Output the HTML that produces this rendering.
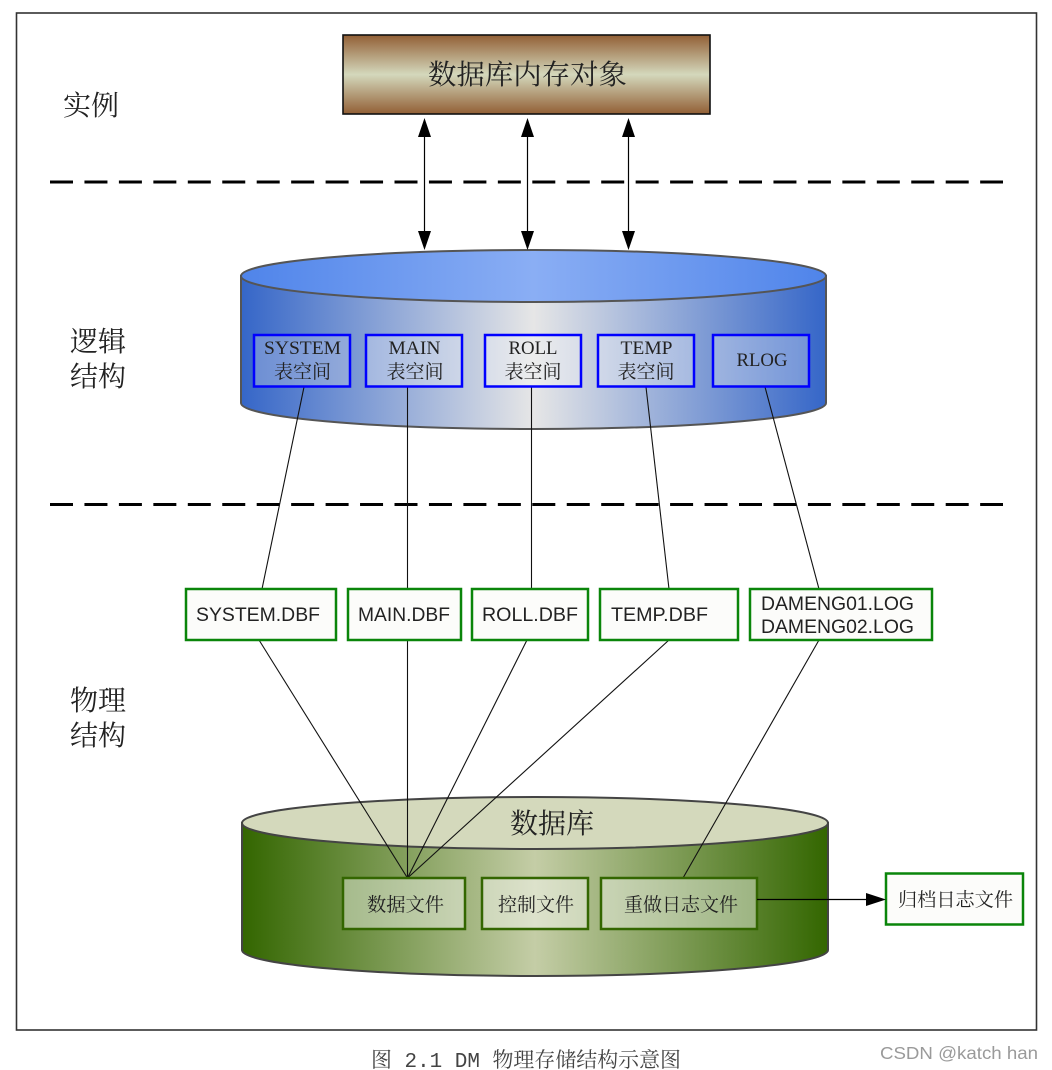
<!DOCTYPE html>
<html><head><meta charset="utf-8">
<style>
html,body{margin:0;padding:0;background:#fff}
svg{display:block}
text{fill:#222}
.cn{font-family:"Liberation Serif","Noto Serif CJK SC",serif}
.se{font-family:"Liberation Serif","Noto Serif CJK SC",serif;font-size:19px;text-anchor:middle}
.sa{font-family:"Liberation Sans",sans-serif;font-size:19px}
.lbl{font-family:"Liberation Serif","Noto Serif CJK SC",serif;font-size:28px}
</style></head><body>
<svg width="1052" height="1070" viewBox="0 0 1052 1070" xmlns="http://www.w3.org/2000/svg">
<defs>
<linearGradient id="br" x1="0" y1="0" x2="0" y2="1">
<stop offset="0" stop-color="#925f35"/><stop offset=".5" stop-color="#d4d8bc"/><stop offset="1" stop-color="#925f35"/>
</linearGradient>
<linearGradient id="bl" x1="0" y1="0" x2="1" y2="0">
<stop offset="0" stop-color="#3566c8"/><stop offset=".5" stop-color="#e6e6e6"/><stop offset="1" stop-color="#3566c8"/>
</linearGradient>
<linearGradient id="blt" x1="0" y1="0" x2="1" y2="0">
<stop offset="0" stop-color="#4f84ea"/><stop offset=".5" stop-color="#8aaef4"/><stop offset="1" stop-color="#4f84ea"/>
</linearGradient>
<linearGradient id="gr" x1="0" y1="0" x2="1" y2="0">
<stop offset="0" stop-color="#336600"/><stop offset=".5" stop-color="#c4cda6"/><stop offset="1" stop-color="#336600"/>
</linearGradient>
</defs>

<rect x="16.500" y="13" width="1020" height="1017" fill="#fff" stroke="#333" stroke-width="1.600"/>

<!-- top box -->
<rect x="343" y="35" width="367" height="79" fill="url(#br)" stroke="#111" stroke-width="1.600"/>
<text class="cn" x="527.500" y="84" font-size="28" text-anchor="middle" textLength="199" lengthAdjust="spacingAndGlyphs">数据库内存对象</text>

<!-- dashed -->
<line x1="50" y1="182" x2="1003" y2="182" stroke="#000" stroke-width="3" stroke-dasharray="23 11.450"/>
<line x1="50" y1="504.500" x2="1003" y2="504.500" stroke="#000" stroke-width="3" stroke-dasharray="23 11.450"/>

<!-- blue cylinder -->
<path d="M241 276V403A292.500 26 0 0 0 826 403V276Z" fill="url(#bl)" stroke="#555" stroke-width="2"/>
<ellipse cx="533.500" cy="276" rx="292.500" ry="26" fill="url(#blt)" stroke="#555" stroke-width="2"/>

<!-- arrows -->
<g fill="#000">
<g stroke="#000" stroke-width="1.200">
<line x1="424.500" y1="130" x2="424.500" y2="236"/>
<line x1="527.500" y1="130" x2="527.500" y2="236"/>
<line x1="628.500" y1="130" x2="628.500" y2="236"/>
</g>
<path d="M424.500 118l-6.500 19h13Z M527.500 118l-6.500 19h13Z M628.500 118l-6.500 19h13Z"/>
<path d="M424.500 250l-6.500-19h13Z M527.500 250l-6.500-19h13Z M628.500 250l-6.500-19h13Z"/>
</g>

<!-- connectors -->
<g stroke="#111" stroke-width="1.100" fill="none">
<line x1="304" y1="387" x2="262" y2="589"/>
<line x1="407.500" y1="387" x2="407.500" y2="589"/>
<line x1="531.500" y1="387" x2="531.500" y2="589"/>
<line x1="646" y1="387" x2="669" y2="589"/>
<line x1="765" y1="387" x2="819" y2="589"/>
</g>

<!-- blue boxes -->
<g fill="#fff" fill-opacity=".28" stroke="#0000ff" stroke-width="2.500">
<rect x="254" y="335" width="96" height="51.500" fill="#c8d2e8" fill-opacity=".35"/>
<rect x="366" y="335" width="96" height="51.500"/>
<rect x="485" y="335" width="96" height="51.500"/>
<rect x="598" y="335" width="96" height="51.500"/>
<rect x="713" y="335" width="96" height="51.500"/>
</g>
<text class="se" x="302.500" y="354" textLength="77" lengthAdjust="spacingAndGlyphs">SYSTEM</text>
<text class="se" x="302.500" y="378">表空间</text>
<text class="se" x="414.500" y="354" textLength="52" lengthAdjust="spacingAndGlyphs">MAIN</text>
<text class="se" x="415" y="378">表空间</text>
<text class="se" x="533" y="354" textLength="49" lengthAdjust="spacingAndGlyphs">ROLL</text>
<text class="se" x="533" y="378">表空间</text>
<text class="se" x="646.500" y="354" textLength="52" lengthAdjust="spacingAndGlyphs">TEMP</text>
<text class="se" x="646" y="378">表空间</text>
<text class="se" x="762" y="366" textLength="51" lengthAdjust="spacingAndGlyphs">RLOG</text>

<!-- green cylinder -->
<path d="M242 823V950A293 26 0 0 0 828 950V823Z" fill="url(#gr)" stroke="#444" stroke-width="2"/>
<ellipse cx="535" cy="823" rx="293" ry="26" fill="#d4d9bc" stroke="#444" stroke-width="2"/>
<text class="cn" x="552" y="833" font-size="28" text-anchor="middle" textLength="84" lengthAdjust="spacingAndGlyphs">数据库</text>

<!-- lower connectors -->
<g stroke="#111" stroke-width="1.100" fill="none">
<line x1="259" y1="640" x2="407.500" y2="878"/>
<line x1="407.500" y1="640" x2="407.500" y2="878"/>
<line x1="527" y1="640" x2="407.500" y2="878"/>
<line x1="669" y1="640" x2="407.500" y2="878"/>
<line x1="819" y1="640" x2="683" y2="878"/>
</g>

<!-- green file boxes -->
<g fill="#fcfcfa" stroke="#0a850a" stroke-width="2.500">
<rect x="186" y="589" width="150" height="51"/>
<rect x="348" y="589" width="113" height="51"/>
<rect x="472" y="589" width="116" height="51"/>
<rect x="600" y="589" width="138" height="51"/>
<rect x="750" y="589" width="182" height="51"/>
<rect x="886" y="873.500" width="137" height="51"/>
</g>
<text class="sa" x="196" y="621" textLength="124" lengthAdjust="spacingAndGlyphs">SYSTEM.DBF</text>
<text class="sa" x="358" y="621" textLength="92" lengthAdjust="spacingAndGlyphs">MAIN.DBF</text>
<text class="sa" x="482" y="621" textLength="96" lengthAdjust="spacingAndGlyphs">ROLL.DBF</text>
<text class="sa" x="611" y="621" textLength="97" lengthAdjust="spacingAndGlyphs">TEMP.DBF</text>
<text class="sa" x="761" y="610" textLength="153" lengthAdjust="spacingAndGlyphs">DAMENG01.LOG</text>
<text class="sa" x="761" y="633" textLength="153" lengthAdjust="spacingAndGlyphs">DAMENG02.LOG</text>
<text class="cn" x="898" y="906" font-size="19" textLength="115" lengthAdjust="spacingAndGlyphs">归档日志文件</text>

<!-- inner green boxes -->
<g fill="#fff" fill-opacity=".42" stroke="#336600" stroke-width="2.500">
<rect x="343" y="878" width="122" height="51"/>
<rect x="482" y="878" width="106" height="51"/>
<rect x="601" y="878" width="156" height="51"/>
</g>
<text class="cn" x="367" y="911" font-size="19" textLength="77" lengthAdjust="spacingAndGlyphs">数据文件</text>
<text class="cn" x="498" y="911" font-size="19" textLength="76" lengthAdjust="spacingAndGlyphs">控制文件</text>
<text class="cn" x="624" y="911" font-size="19" textLength="114" lengthAdjust="spacingAndGlyphs">重做日志文件</text>

<line x1="757" y1="899.500" x2="868" y2="899.500" stroke="#000" stroke-width="1.200"/>
<path d="M886 899.500L866 893V906Z" fill="#000"/>

<!-- side labels -->
<text class="lbl" x="63" y="115">实例</text>
<text class="lbl" x="70" y="351">逻辑</text>
<text class="lbl" x="70" y="386">结构</text>
<text class="lbl" x="70" y="710">物理</text>
<text class="lbl" x="70" y="745">结构</text>

<!-- caption -->
<text x="371" y="1067" font-size="21" font-family="Liberation Mono,Noto Serif CJK SC,monospace" style="fill:#444" textLength="310" lengthAdjust="spacingAndGlyphs">图 2.1 DM 物理存储结构示意图</text>
<text x="880" y="1059" font-size="17.500" font-family="Liberation Sans,sans-serif" style="fill:#9a9a9a" textLength="158" lengthAdjust="spacingAndGlyphs">CSDN @katch han</text>
</svg>
</body></html>
